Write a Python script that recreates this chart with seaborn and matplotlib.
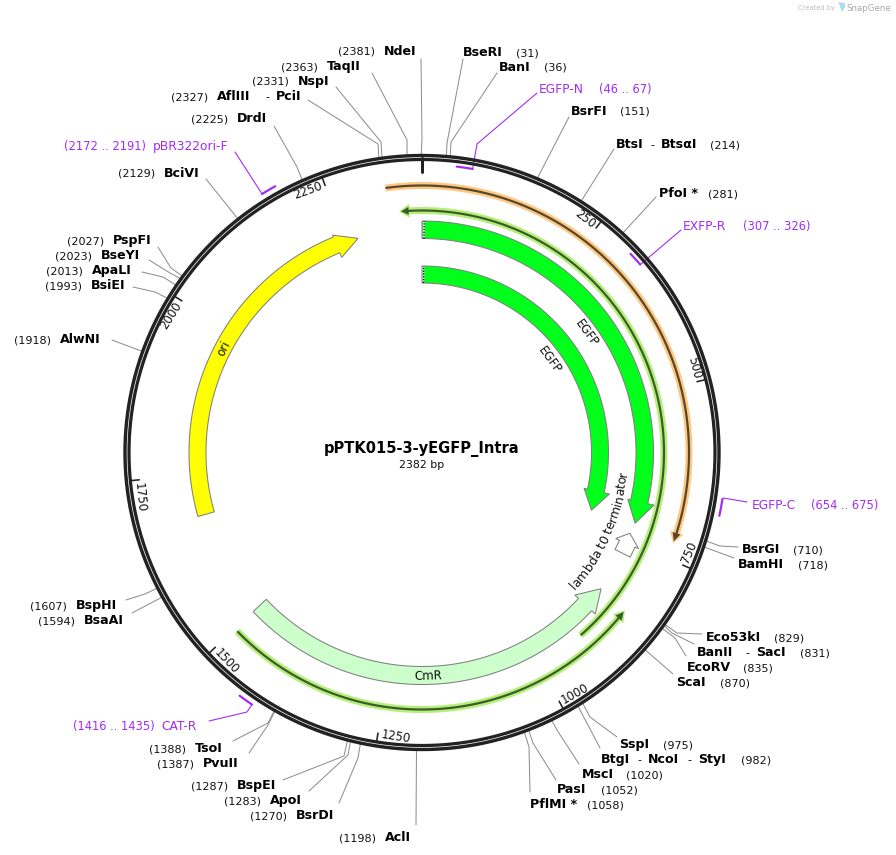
import numpy as np
import matplotlib
matplotlib.use("Agg")
import matplotlib.pyplot as plt
import seaborn as sns

# plasmid data
plasmid_name = "pPTK015-3-yEGFP_Intra"
plasmid_size = 2382
tick_sites = [250, 500, 750, 1000, 1250, 1500, 1750, 2000, 2250]

enzyme_names = [
    "NdeI", "TaqII", "NspI", "AflIII - PciI", "DrdI", "BciVI", "PspFI", "BseYI",
    "ApaLI", "BsiEI", "AlwNI", "BseRI", "BanI", "BsrFI", "BtsI - BtsαI", "PfoI *",
    "BsrGI", "BamHI", "Eco53kI", "BanII - SacI", "EcoRV", "ScaI", "SspI",
    "BtgI - NcoI - StyI", "MscI", "PasI", "PflMI *", "AclI", "BsrDI", "ApoI",
    "BspEI", "PvuII", "TsoI", "BsaAI", "BspHI",
]
enzyme_sites = [
    2381, 2363, 2331, 2327, 2225, 2129, 2027, 2023,
    2013, 1993, 1918, 31, 36, 151, 214, 281,
    710, 718, 829, 831, 835, 870, 975,
    982, 1020, 1052, 1058, 1198, 1270, 1283,
    1287, 1387, 1388, 1594, 1607,
]

primer_names = ["EGFP-N", "EXFP-R", "EGFP-C", "CAT-R", "pBR322ori-F"]
primer_starts = [46, 307, 654, 1416, 2172]
primer_ends = [67, 326, 675, 1435, 2191]
primer_attach = [67, 326, 654, 1416, 2172]

feature_names = ["EGFP", "EGFP", "ori", "CmR", "lambda t0 terminator"]
feature_starts = [0, 0, 1681, 1500, 772]
feature_ends = [717, 720, 2272, 842, 736]

# layout, in pixels of the 896x855 picture
CX, CY = 422, 452.5
enzyme_name_x = [
    (384,), (327,), (298,), (217, 276), (237,), (164,), (113,), (101,),
    (92,), (91,), (60,), (463,), (499,), (571,), (616, 661), (659,),
    (742,), (738,), (706,), (697, 756), (687,), (676,), (619,),
    (601, 648, 698), (582,), (557,), (530,), (385,), (296,), (270,),
    (237,), (203,), (195,), (84,), (76,),
]
enzyme_site_x = [
    338, 281, 252, 171, 191, 118, 67, 55,
    46, 45, 14, 516, 544, 620, 710, 708,
    793, 798, 774, 800, 743, 720, 663,
    741, 626, 601, 587, 339, 250, 224,
    191, 157, 149, 38, 30,
]
enzyme_y = [
    51, 66, 81, 96, 118, 173, 240, 255,
    270, 285, 339, 52, 67, 111, 144, 193,
    549, 564, 637, 652, 667, 682, 744,
    759, 774, 789, 804, 837, 815, 800,
    785, 763, 748, 620, 605,
]
enzyme_leader_end = [
    (421, 59), (372, 73), (336, 87), (308, 100), (274, 126), (206, 179), (158, 247), (149, 260),
    (142, 272), (133, 287), (112, 340), (463, 59), (497, 73), (569, 117), (614, 149), (656, 197),
    (738, 547), (734, 558), (702, 634), (694, 644), (686, 656), (673, 674), (617, 737),
    (600, 748), (579, 764), (556, 780), (530, 792), (416, 825), (339, 803), (309, 791),
    (283, 780), (249, 753), (233, 741), (132, 613), (126, 600),
]
enzyme_leader_bend = [
    (422, 140), (407, 140), (381, 142), (378, 144), (297, 167), None, (171, 268), (170, 273),
    (163, 277), (155, 292), None, (447, 143), (451, 142), None, None, None,
    (720, 546), None, (677, 633), (672, 633), (675, 638), None, (590, 717),
    None, (557, 730), (533, 743), (529, 747), None, (358, 758), (348, 755),
    (344, 756), (268, 725), (268, 723), None, (145, 594),
]

primer_name_x = [539, 683, 752, 161, 153]
primer_pos_x = [599, 743, 811, 73, 64]
primer_y = [89, 226, 505, 726, 146]
primer_radius = [288, 288, 304, 304, 304]
primer_leader_end = [(537, 93), (681, 230), (747, 502), (209, 721), (235, 152)]
primer_leader_bend = [(477, 144), None, (723, 498), (247, 712), None]

PURPLE = "#a32cf2"
LEADER = "#8c8c8c"
EDGE = "#808080"


def bp_xy(bp, r):
    a = 2 * np.pi * np.asarray(bp, dtype=float) / plasmid_size
    return CX + r * np.sin(a), CY - r * np.cos(a)


def draw_path(ax, xs, ys, color, width_px, **kwargs):
    sns.lineplot(x=xs, y=ys, sort=False, estimator=None, ax=ax, color=color,
                 linewidth=width_px * 0.72, legend=False, **kwargs)


def arrow_shape(start, end, r_in, r_out, head_bp=0, head_in=None, head_out=None, tip_r=None):
    # outline of an arc with an arrow head at "end"; cw if end > start
    clockwise = end > start
    d = 1 if clockwise else -1
    base = end - d * head_bp
    arc = np.linspace(start, base, 120)
    ox, oy = bp_xy(arc, r_out)
    ix, iy = bp_xy(arc[::-1], r_in)
    if not head_bp:
        return np.r_[ox, ix], np.r_[oy, iy]
    hox, hoy = bp_xy(base, head_out)
    hix, hiy = bp_xy(base, head_in)
    tx, ty = bp_xy(end, (r_in + r_out) / 2 if tip_r is None else tip_r)
    return np.r_[ox, hox, tx, hix, ix], np.r_[oy, hoy, ty, hiy, iy]


def draw_primer_bar(ax, start, end, r, band, line, head=True):
    head_bp = 16 if head else 0
    xs, ys = arrow_shape(start, end, r - 3.5, r + 3.5, head_bp, r - 7, r + 7)
    ax.fill(xs, ys, color=band, lw=0, zorder=2)
    dk_x, dk_y = arrow_shape(start, end - (1 if end > start else -1) * 3, r - 1.1, r + 1.1,
                             head_bp - 4 if head else 0, r - 4, r + 4)
    ax.fill(dk_x, dk_y, color=line, lw=0, zorder=3)


def draw_curved_text(ax, fig, text, center_bp, r, **kwargs):
    # reads against the clockwise direction, one glyph at a time along the arc
    renderer = fig.canvas.get_renderer()
    probe = ax.text(0, 0, text, **kwargs)
    fp = probe.get_fontproperties()
    probe.remove()
    total_w = renderer.get_text_width_height_descent(text, fp, False)[0]
    bp_per_px = plasmid_size / (2 * np.pi * r)
    for i, ch in enumerate(text):
        w = renderer.get_text_width_height_descent(text[:i], fp, False)[0] if i else 0
        bp = center_bp + (total_w / 2 - w) * bp_per_px
        x, y = bp_xy(bp, r)
        angle = bp / plasmid_size * 360
        ax.text(x, y, ch, rotation=180 - angle, rotation_mode="anchor",
                ha="left", va="baseline", **kwargs)


sns.set_theme(style="white")
plt.rcParams["font.family"] = "DejaVu Sans"

fig = plt.figure(figsize=(8.96, 8.55), dpi=100)
ax = fig.add_axes([0, 0, 1, 1])

# leaders go under the ring
for site, end, bend in zip(enzyme_sites, enzyme_leader_end, enzyme_leader_bend):
    rx, ry = bp_xy(site, 298)
    pts = [end] + ([bend] if bend else []) + [(rx, ry)]
    draw_path(ax, [p[0] for p in pts], [p[1] for p in pts], LEADER, 1.0, zorder=1)

for attach, r, end, bend in zip(primer_attach, primer_radius, primer_leader_end, primer_leader_bend):
    rx, ry = bp_xy(attach, r)
    pts = [end] + ([bend] if bend else []) + [(rx, ry)]
    draw_path(ax, [p[0] for p in pts], [p[1] for p in pts], PURPLE, 1.1, zorder=1)

# backbone ring
theta = np.linspace(0, plasmid_size, 721)
for r, w in [(297.0, 3.4), (293.0, 3.2)]:
    xs, ys = bp_xy(theta, r)
    draw_path(ax, xs, ys, "#222222", w, zorder=4)

# ticks
x0, y0 = bp_xy(0, 294)
x1, y1 = bp_xy(0, 280)
draw_path(ax, [x0, x1], [y0, y1], "#222222", 3, zorder=4)
for t in tick_sites:
    xs, ys = bp_xy([t, t], np.array([292, 284]))
    draw_path(ax, xs, ys, "#222222", 1.6, zorder=4)
    angle = t / plasmid_size * 360
    tx, ty = bp_xy(t - 4, 285)
    if 90 < angle < 270:
        ax.text(tx, ty, str(t), rotation=180 - angle, rotation_mode="anchor",
                ha="left", va="center", fontsize=8.5, color="#111111")
    else:
        ax.text(tx, ty, str(t), rotation=-angle, rotation_mode="anchor",
                ha="right", va="center", fontsize=8.5, color="#111111")

# primer binding sites
for start, end, r in zip(primer_starts, primer_ends, primer_radius):
    xs, ys = bp_xy(np.linspace(start, end, 12), r)
    draw_path(ax, xs, ys, PURPLE, 2.2, zorder=5)

# orange and green bars
draw_primer_bar(ax, -52, 727, 267, "#ffc880", "#55462e")
draw_primer_bar(ax, 920, -36, 242, "#b2f078", "#3f5a2a")
draw_primer_bar(ax, 1495, 846, 257, "#b2f078", "#3f5a2a")

# features
feature_colors = ["#00ff1a", "#00ff1a", "#ffff00", "#ccffcc", "#ffffff"]
shaft_in = [214, 169.5, 216, 214, 216]
shaft_out = [231.5, 186.5, 233, 232, 233]
head_in = [211, 166, 211, 209, 212]
head_out = [238, 192, 235, 237, 237]
head_len = [37, 42, 38, 38, 18]
tip_r = [224.5, 179, 223.5, 225, 223]
for i in range(len(feature_names)):
    xs, ys = arrow_shape(feature_starts[i], feature_ends[i], shaft_in[i], shaft_out[i],
                         head_len[i], head_in[i], head_out[i], tip_r[i])
    ax.fill(xs, ys, facecolor=feature_colors[i], edgecolor=EDGE, lw=0.75, zorder=3)

# hatched start of the two EGFP arcs
for r_in, r_out in [(214, 231.5), (169.5, 186.5)]:
    xs, ys = arrow_shape(1.5, 5, r_in + 0.5, r_out - 0.5)
    ax.fill(xs, ys, color="white", lw=0, zorder=3)
    xs, ys = bp_xy([3.5, 3.5], np.array([r_in, r_out]))
    ax.plot(xs, ys, color="black", lw=1.0, ls=(0, (1, 1)), zorder=3)

# feature labels
label_bp = [358, 358, 1970, 1180]
label_r = [203, 157, 223.6, 224]
for i, (bp, r) in enumerate(zip(label_bp, label_r)):
    x, y = bp_xy(bp, r)
    angle = bp / plasmid_size * 360
    rot = 180 - angle if 90 < angle < 270 else -angle
    ax.text(x, y, feature_names[i], rotation=rot, rotation_mode="anchor", ha="center",
            va="center", fontsize=8.5, color="#111111", zorder=6)
draw_curved_text(ax, fig, feature_names[4], 752, 206, fontsize=8.8, color="#111111", zorder=6)

# enzyme labels
for name, xs, px, y, site in zip(enzyme_names, enzyme_name_x, enzyme_site_x, enzyme_y, enzyme_sites):
    base = y + 4
    parts = name.split(" - ")
    for j, (part, x) in enumerate(zip(parts, xs)):
        ax.text(x, base, part, fontsize=9.1, fontweight="bold", color="black", va="baseline")
        if j:
            ax.text(x - 8.5, base, "-", fontsize=8, color="black", va="baseline", ha="center")
    ax.text(px, base, f"({site})", fontsize=8, color="#111111", va="baseline")

# primer labels
for name, start, end, nx, px, y in zip(primer_names, primer_starts, primer_ends,
                                       primer_name_x, primer_pos_x, primer_y):
    base = y + 4
    ax.text(nx, base, name, fontsize=8.8, color=PURPLE, va="baseline")
    ax.text(px, base, f"({start} .. {end})", fontsize=8.3, color=PURPLE, va="baseline")

# centre title
ax.text(CX, 453, plasmid_name, fontsize=10.5, fontweight="bold", ha="center", va="baseline", color="black")
ax.text(CX, 468, f"{plasmid_size} bp", fontsize=7.9, ha="center", va="baseline", color="#111111")

# SnapGene watermark
ax.text(798, 10, "Created by", fontsize=4.9, color="#bdbdbd", va="baseline")
ax.fill([838.5, 845, 845, 842, 840.5], [2, 3, 7, 12, 8], color="#a9daf5", lw=0)
ax.text(846, 11, "SnapGene", fontsize=6.2, color="#a8a8a8", va="baseline")

ax.set_xlim(0, 896)
ax.set_ylim(855, 0)
ax.axis("off")
fig.savefig("out.png", dpi=100, facecolor="white")
